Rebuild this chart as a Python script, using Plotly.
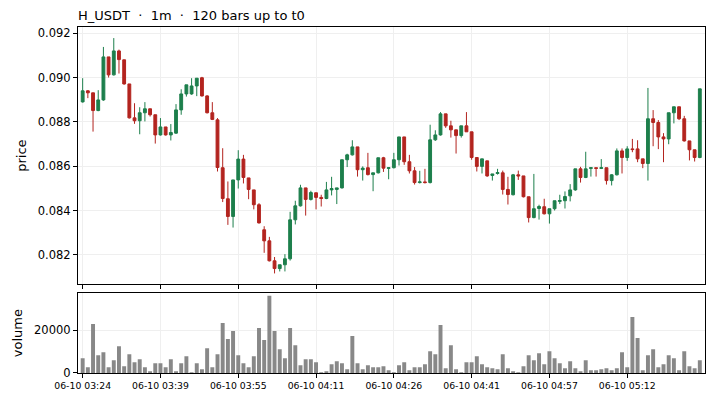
import plotly.graph_objects as go

# 120 one-minute bars
bar_index = list(range(120))

opens = [
    0.08890, 0.08940, 0.08931, 0.08851, 0.08899, 0.09093, 0.09012, 0.09120, 0.09080, 0.08971,
    0.08818, 0.08805, 0.08841, 0.08859, 0.08832, 0.08741, 0.08777, 0.08741, 0.08749, 0.08854,
    0.08926, 0.08926, 0.08962, 0.08999, 0.08917, 0.08841, 0.08809, 0.08593, 0.08453, 0.08373,
    0.08538, 0.08632, 0.08547, 0.08493, 0.08426, 0.08313, 0.08263, 0.08173, 0.08138, 0.08155,
    0.08182, 0.08358, 0.08421, 0.08502, 0.08450, 0.08480, 0.08459, 0.08454, 0.08493, 0.08495,
    0.08502, 0.08629, 0.08651, 0.08687, 0.08584, 0.08593, 0.08562, 0.08570, 0.08638, 0.08590,
    0.08593, 0.08629, 0.08732, 0.08620, 0.08579, 0.08526, 0.08529, 0.08526, 0.08719, 0.08741,
    0.08836, 0.08782, 0.08764, 0.08738, 0.08782, 0.08755, 0.08639, 0.08599, 0.08624, 0.08558,
    0.08567, 0.08570, 0.08495, 0.08471, 0.08561, 0.08556, 0.08462, 0.08368, 0.08409, 0.08417,
    0.08385, 0.08408, 0.08441, 0.08444, 0.08466, 0.08493, 0.08588, 0.08549, 0.08590, 0.08593,
    0.08590, 0.08593, 0.08535, 0.08561, 0.08669, 0.08639, 0.08678, 0.08678, 0.08633, 0.08612,
    0.08814, 0.08797, 0.08732, 0.08723, 0.08841, 0.08868, 0.08814, 0.08714, 0.08674, 0.08639,
]
highs = [
    0.08997, 0.08943, 0.08931, 0.08943, 0.09138, 0.09093, 0.09178, 0.09126, 0.09080, 0.08971,
    0.08884, 0.08866, 0.08889, 0.08859, 0.08832, 0.08817, 0.08777, 0.08790, 0.08880, 0.08947,
    0.08967, 0.08997, 0.08997, 0.09003, 0.08920, 0.08889, 0.08817, 0.08681, 0.08531, 0.08538,
    0.08672, 0.08651, 0.08547, 0.08493, 0.08433, 0.08329, 0.08281, 0.08190, 0.08155, 0.08203,
    0.08394, 0.08444, 0.08516, 0.08502, 0.08489, 0.08480, 0.08471, 0.08529, 0.08552, 0.08502,
    0.08629, 0.08656, 0.08717, 0.08687, 0.08599, 0.08660, 0.08570, 0.08638, 0.08642, 0.08593,
    0.08660, 0.08732, 0.08732, 0.08651, 0.08596, 0.08579, 0.08588, 0.08787, 0.08762, 0.08844,
    0.08836, 0.08805, 0.08764, 0.08782, 0.08844, 0.08755, 0.08639, 0.08633, 0.08624, 0.08565,
    0.08588, 0.08580, 0.08552, 0.08565, 0.08580, 0.08556, 0.08462, 0.08565, 0.08426, 0.08453,
    0.08408, 0.08444, 0.08471, 0.08486, 0.08519, 0.08588, 0.08597, 0.08665, 0.08593, 0.08593,
    0.08632, 0.08593, 0.08564, 0.08680, 0.08680, 0.08690, 0.08723, 0.08717, 0.08633, 0.08953,
    0.08853, 0.08808, 0.08749, 0.08841, 0.08868, 0.08868, 0.08827, 0.08714, 0.08674, 0.08949,
]
lows = [
    0.08887, 0.08907, 0.08756, 0.08848, 0.08895, 0.09000, 0.09009, 0.09018, 0.08968, 0.08815,
    0.08791, 0.08744, 0.08802, 0.08824, 0.08702, 0.08738, 0.08738, 0.08716, 0.08746, 0.08832,
    0.08914, 0.08922, 0.08916, 0.08914, 0.08838, 0.08808, 0.08576, 0.08438, 0.08335, 0.08323,
    0.08499, 0.08522, 0.08451, 0.08405, 0.08341, 0.08209, 0.08170, 0.08116, 0.08125, 0.08125,
    0.08174, 0.08337, 0.08418, 0.08377, 0.08445, 0.08405, 0.08418, 0.08451, 0.08468, 0.08429,
    0.08499, 0.08596, 0.08648, 0.08553, 0.08535, 0.08558, 0.08487, 0.08567, 0.08574, 0.08541,
    0.08590, 0.08603, 0.08606, 0.08567, 0.08517, 0.08522, 0.08522, 0.08522, 0.08714, 0.08738,
    0.08773, 0.08729, 0.08657, 0.08729, 0.08755, 0.08629, 0.08576, 0.08567, 0.08552, 0.08535,
    0.08562, 0.08472, 0.08427, 0.08468, 0.08538, 0.08459, 0.08346, 0.08365, 0.08359, 0.08382,
    0.08341, 0.08400, 0.08429, 0.08409, 0.08441, 0.08489, 0.08526, 0.08546, 0.08553, 0.08553,
    0.08587, 0.08517, 0.08513, 0.08558, 0.08567, 0.08624, 0.08663, 0.08618, 0.08591, 0.08535,
    0.08690, 0.08677, 0.08618, 0.08699, 0.08793, 0.08808, 0.08711, 0.08626, 0.08621, 0.08636,
]
closes = [
    0.08940, 0.08931, 0.08851, 0.08899, 0.09093, 0.09012, 0.09120, 0.09081, 0.08971, 0.08818,
    0.08805, 0.08841, 0.08859, 0.08832, 0.08741, 0.08777, 0.08741, 0.08752, 0.08854, 0.08926,
    0.08967, 0.08962, 0.08997, 0.08917, 0.08841, 0.08811, 0.08594, 0.08454, 0.08373, 0.08538,
    0.08632, 0.08549, 0.08495, 0.08426, 0.08344, 0.08263, 0.08173, 0.08138, 0.08155, 0.08182,
    0.08358, 0.08421, 0.08502, 0.08450, 0.08481, 0.08459, 0.08454, 0.08493, 0.08499, 0.08502,
    0.08629, 0.08651, 0.08687, 0.08584, 0.08591, 0.08562, 0.08570, 0.08638, 0.08591, 0.08593,
    0.08629, 0.08732, 0.08620, 0.08579, 0.08526, 0.08529, 0.08526, 0.08719, 0.08741, 0.08836,
    0.08782, 0.08764, 0.08738, 0.08782, 0.08755, 0.08639, 0.08599, 0.08633, 0.08556, 0.08565,
    0.08571, 0.08495, 0.08472, 0.08561, 0.08556, 0.08462, 0.08368, 0.08408, 0.08418, 0.08385,
    0.08408, 0.08444, 0.08445, 0.08463, 0.08493, 0.08588, 0.08549, 0.08588, 0.08593, 0.08590,
    0.08593, 0.08535, 0.08561, 0.08669, 0.08639, 0.08678, 0.08675, 0.08633, 0.08612, 0.08814,
    0.08797, 0.08732, 0.08723, 0.08841, 0.08868, 0.08814, 0.08714, 0.08674, 0.08639, 0.08949,
]
volumes = [
    6930, 2680, 23000, 8350, 9770, 2680, 5990, 12600, 3150, 8820,
    5040, 6460, 2680, 790, 4570, 4570, 2680, 6460, 790, 4570,
    7880, 315, 4570, 1730, 11660, 2680, 8820, 23470, 15910, 19690,
    8350, 4570, 2680, 7880, 21100, 15440, 36230, 19690, 11180, 6930,
    21100, 13070, 3620, 6460, 6460, 5040, 315, 790, 4100, 5510,
    4570, 1730, 17330, 4570, 1730, 3620, 2680, 2680, 3150, 1260,
    315, 3620, 5040, 1260, 2680, 2680, 4100, 10240, 8820, 22520,
    2200, 13070, 1730, 315, 5040, 5040, 7880, 4100, 2680, 2200,
    1730, 8820, 2200, 790, 315, 3150, 8350, 5990, 9290, 4100,
    10240, 6930, 4570, 2200, 5510, 2200, 790, 5990, 1260, 1260,
    1730, 2200, 1260, 2200, 9770, 2680, 26300, 16380, 1260, 8350,
    11180, 2680, 4100, 8350, 6930, 1260, 10240, 3150, 2200, 5990,
]

# labelled bars on the x axis
tick_bars = [0, 15, 30, 45, 60, 75, 90, 105]
tick_labels = ["06-10 03:24", "06-10 03:39", "06-10 03:55", "06-10 04:11",
               "06-10 04:26", "06-10 04:41", "06-10 04:57", "06-10 05:12"]

price_ticks = [0.082, 0.084, 0.086, 0.088, 0.090, 0.092]
volume_ticks = [0, 20000]

GREEN = "#1d7f4c"
RED = "#b3241f"
GRID = "#efefef"
FONT = "DejaVu Sans"

fig = go.Figure()
fig.add_trace(go.Candlestick(
    x=bar_index, open=opens, high=highs, low=lows, close=closes,
    increasing=dict(line=dict(color=GREEN, width=1), fillcolor=GREEN),
    decreasing=dict(line=dict(color=RED, width=1), fillcolor=RED),
    whiskerwidth=0, xaxis="x", yaxis="y", showlegend=False,
))
fig.add_trace(go.Bar(
    x=bar_index, y=volumes, marker=dict(color="#888888", line=dict(width=0)),
    xaxis="x2", yaxis="y2", showlegend=False,
))

axis_common = dict(
    showline=True, linecolor="black", linewidth=1.2, mirror=True,
    ticks="outside", ticklen=4, tickcolor="black", tickwidth=1,
    showgrid=True, gridcolor=GRID, gridwidth=1, zeroline=False,
    automargin=False,
    tickfont=dict(family=FONT, size=11.5, color="black"),
)

fig.update_layout(
    width=713, height=400,
    margin=dict(l=78, r=8, t=27, b=27),
    paper_bgcolor="white", plot_bgcolor="white",
    font=dict(family=FONT, color="black"),
    boxgap=0.22, bargap=0.24,
    title=dict(text="H_USDT  ·  1m  ·  120 bars up to t0", x=0, xref="paper", xanchor="left",
               y=1 - 15 / 400, yanchor="middle", font=dict(family=FONT, size=13, color="black")),
    xaxis=dict(axis_common, domain=[0, 1], anchor="y", range=[-0.9, 120], autorange=False,
               tickvals=tick_bars, ticktext=tick_labels, showticklabels=False,
               rangeslider=dict(visible=False)),
    yaxis=dict(axis_common, domain=[0.2564, 1], anchor="x", range=[0.08067, 0.09228],
               autorange=False, tickvals=price_ticks, tickformat=".3f",
               title=dict(text="price", font=dict(family=FONT, size=13), standoff=8)),
    xaxis2=dict(axis_common, domain=[0, 1], anchor="y2", range=[-0.9, 120], autorange=False,
                tickvals=tick_bars, ticktext=tick_labels,
                tickfont=dict(family=FONT, size=9.3, color="black")),
    yaxis2=dict(axis_common, domain=[0, 0.2303], anchor="x2", range=[0, 37400],
                autorange=False, tickvals=volume_ticks, tickformat="d",
                title=dict(text="volume", font=dict(family=FONT, size=13), standoff=8)),
)

# drop the page's default body margin so the 713x400 figure fills the window
fig.write_html("out.html", config={"displayModeBar": False},
               post_script="document.body.style.margin = '0px';")
